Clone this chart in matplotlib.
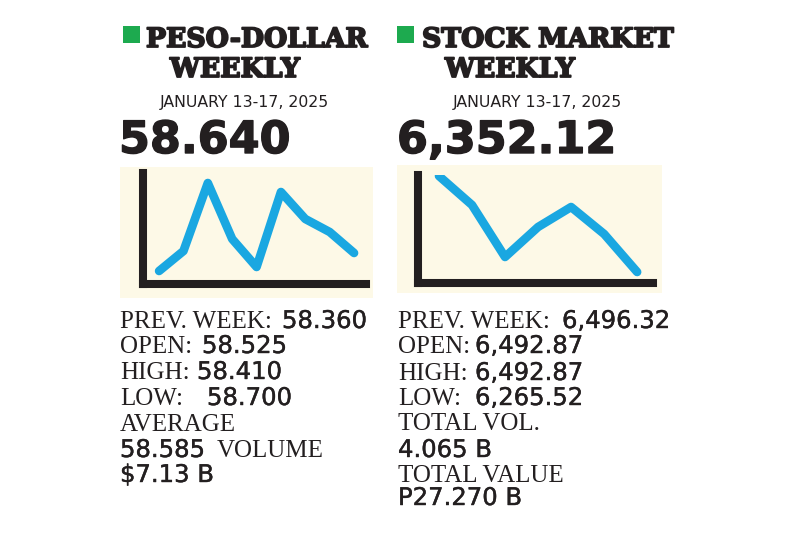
import matplotlib
matplotlib.use('Agg')
import matplotlib.pyplot as plt
from matplotlib.patches import Rectangle
import matplotlib.patheffects as pe

# --- data ---
peso_title = ['PESO-DOLLAR', 'WEEKLY']
stock_title = ['STOCK MARKET', 'WEEKLY']
date_label = 'JANUARY 13-17, 2025'
peso_close = '58.640'
stock_close = '6,352.12'
# spark lines (no scale in the original, relative heights only)
peso_line = [29, 49, 117, 61, 33, 108, 81, 68, 47]
stock_line = [124, 95, 43, 73, 93, 66, 28]
peso_labels = ['PREV. WEEK:', 'OPEN:', 'HIGH:', 'LOW:', 'AVERAGE', '', '']
peso_values = ['58.360', '58.525', '58.410', '58.700', '', '58.585', '$7.13 B']
stock_labels = ['PREV. WEEK:', 'OPEN:', 'HIGH:', 'LOW:', 'TOTAL VOL.', '', 'TOTAL VALUE', '']
stock_values = ['6,496.32', '6,492.87', '6,492.87', '6,265.52', '', '4.065 B', '', 'P27.270 B']

W, H = 800, 533
CREAM = '#fdf9e7'
BLUE = '#1aa7e1'
INK = '#231f20'
GREEN = '#1daa4f'

fig = plt.figure(figsize=(8, 5.33), dpi=100)
fig.patch.set_facecolor('white')


def px(x, y):
    # pixel coords (top-left origin) -> figure fraction
    return x / W, 1 - y / H


def box(x0, y0, x1, y1):
    return [x0 / W, 1 - y1 / H, (x1 - x0) / W, (y1 - y0) / H]


def ftext(x, y, s, **kw):
    fx, fy = px(x, y)
    fig.text(fx, fy, s, va='baseline', ha='left', **kw)


def spark(bg, inner, vals, xlim, ylim):
    # cream panel
    axb = fig.add_axes(box(*bg))
    axb.set_facecolor(CREAM)
    axb.set_xticks([]); axb.set_yticks([])
    for s in axb.spines.values():
        s.set_visible(False)
    # L-shaped axis with the blue line
    ax = fig.add_axes(box(*inner))
    ax.patch.set_alpha(0)
    ax.plot(range(len(vals)), vals, color=BLUE, lw=6.2, solid_capstyle='round',
            solid_joinstyle='round')
    ax.set_xlim(*xlim)
    ax.set_ylim(*ylim)
    ax.set_xticks([]); ax.set_yticks([])
    for k in ['top', 'right']:
        ax.spines[k].set_visible(False)
    for k in ['left', 'bottom']:
        ax.spines[k].set_linewidth(5.8)
        ax.spines[k].set_color(INK)
        ax.spines[k].set_capstyle('projecting')


# ----- headers -----
title_kw = dict(family='DejaVu Serif', weight='bold', color=INK, fontsize=19.2,
                path_effects=[pe.withStroke(linewidth=1.3, foreground=INK)])
for gx, tx, wx, title in [(123, 146, 170, peso_title), (397, 422, 445, stock_title)]:
    fig.patches.append(Rectangle(px(gx, 43), 17 / W, 17 / H, transform=fig.transFigure,
                                 facecolor=GREEN, edgecolor='none'))
    ftext(tx, 47, title[0], **title_kw)
    ftext(wx, 77, title[1], **title_kw)

date_kw = dict(family='DejaVu Sans', color=INK, fontsize=11.3)
ftext(160, 107, date_label, **date_kw)
ftext(453, 107, date_label, **date_kw)

big_kw = dict(family='DejaVu Sans', weight='bold', color=INK, fontsize=32,
              path_effects=[pe.withStroke(linewidth=1.0, foreground=INK)])
ftext(119, 153, peso_close, **big_kw)
ftext(397, 153, stock_close, **big_kw)

# ----- spark lines -----
spark((120, 167, 373, 298), (143, 173, 366, 284), peso_line, (-0.66, 8.49), (16, 127))
spark((397, 165, 662, 293), (418.5, 175, 653, 282.5), stock_line, (-0.62, 6.48), (17.5, 125))

# ----- stat rows -----
lab_kw = dict(family='Liberation Serif', color=INK, fontsize=18)
val_kw = dict(family='DejaVu Sans', color=INK, fontsize=17.5,
              path_effects=[pe.withStroke(linewidth=0.3, foreground=INK)])

peso_base = [328, 353, 379, 405, 431, 457, 482]
peso_vx = [282, 202, 197, 207, 120, 120, 120]
for i, (lab, val) in enumerate(zip(peso_labels, peso_values)):
    if lab:
        ftext(120, peso_base[i], lab, **lab_kw)
    if val:
        ftext(peso_vx[i], peso_base[i], val, **val_kw)
ftext(217, peso_base[5], 'VOLUME', **lab_kw)

stock_base = [328, 353, 380, 405, 430, 457, 482, 505]
stock_vx = [562, 475, 475, 475, 398, 398, 398, 398]
for i, (lab, val) in enumerate(zip(stock_labels, stock_values)):
    if lab:
        ftext(398, stock_base[i], lab, **lab_kw)
    if val:
        ftext(stock_vx[i], stock_base[i], val, **val_kw)

fig.savefig('out.png', dpi=100, facecolor='white')
